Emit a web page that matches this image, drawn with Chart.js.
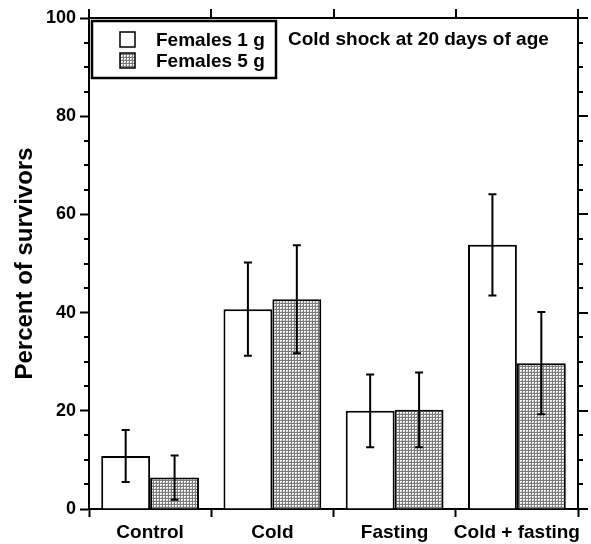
<!DOCTYPE html>
<html lang="en">
<head>
    <meta charset="UTF-8">
    <title>Cold shock at 20 days of age</title>
    <script src="https://cdn.jsdelivr.net/npm/chart.js"></script>
    <style>
        * {
            padding: 0;
            margin: 0;
            box-sizing: border-box;
        }

        body {
            background: #ffffff;
        }

        canvas {
            display: block;
        }
    </style>
</head>

<body>
    <canvas id="chart1" width="591" height="544"></canvas>

    <script>
        const categories = ['Control', 'Cold', 'Fasting', 'Cold + fasting'];
        const seriesNames = ['Females 1 g', 'Females 5 g'];
        const females1g = [10.8, 40.7, 20.0, 53.8];
        const females5g = [6.4, 42.7, 20.2, 29.7];
        const err1g = [5.3, 9.5, 7.4, 10.3];
        const err5g = [4.5, 11.0, 7.6, 10.4];
        const yTicks = [0, 20, 40, 60, 80, 100];
        const yTitle = 'Percent of survivors';
        const noteText = 'Cold shock at 20 days of age';

        const FONT = "'Liberation Sans', Arial, sans-serif";

        // dotted grey fill for the 5 g bars
        function makeDots() {
            const c = document.createElement('canvas');
            c.width = 3;
            c.height = 3;
            const g = c.getContext('2d');
            g.fillStyle = '#7a7a7a';
            g.fillRect(0, 0, 3, 3);
            g.fillStyle = '#fafafa';
            g.fillRect(1, 1, 2, 2);
            g.fillStyle = '#c4c4c4';
            g.fillRect(2, 2, 1, 1);
            return document.createElement('canvas').getContext('2d').createPattern(c, 'repeat');
        }
        const dots = makeDots();

        const errors = [err1g, err5g];

        const errorBars = {
            id: 'errorBars',
            afterDatasetsDraw(chart) {
                const ctx = chart.ctx;
                const y = chart.scales.y;
                ctx.save();
                ctx.strokeStyle = '#000';
                ctx.lineWidth = 2;
                chart.data.datasets.forEach((ds, d) => {
                    const meta = chart.getDatasetMeta(d);
                    meta.data.forEach((bar, i) => {
                        const v = ds.data[i];
                        const e = errors[d][i];
                        const top = y.getPixelForValue(v + e);
                        const bot = y.getPixelForValue(v - e);
                        ctx.beginPath();
                        ctx.moveTo(bar.x, top);
                        ctx.lineTo(bar.x, bot);
                        ctx.moveTo(bar.x - 4, top);
                        ctx.lineTo(bar.x + 4, top);
                        ctx.moveTo(bar.x - 4, bot);
                        ctx.lineTo(bar.x + 4, bot);
                        ctx.stroke();
                    });
                });
                ctx.restore();
            }
        };

        // frame, minor ticks, top/right ticks, legend box, axis title and the note
        const frame = {
            id: 'frame',
            afterDraw(chart) {
                const ctx = chart.ctx;
                const a = chart.chartArea;
                const x = chart.scales.x;
                const y = chart.scales.y;
                ctx.save();
                ctx.strokeStyle = '#000';
                ctx.lineWidth = 2;
                ctx.beginPath();
                ctx.moveTo(a.left, a.top);
                ctx.lineTo(a.right, a.top);
                ctx.moveTo(a.right, a.top);
                ctx.lineTo(a.right, a.bottom);
                ctx.stroke();

                // ticks on top at category edges
                const step = (a.right - a.left) / categories.length;
                ctx.beginPath();
                for (let i = 0; i <= categories.length; i++) {
                    const px = Math.round(x.getPixelForValue(i) - step / 2);
                    ctx.moveTo(px, a.top);
                    ctx.lineTo(px, a.top - 9);
                }
                ctx.stroke();

                // minor ticks left, all ticks right
                ctx.beginPath();
                for (let v = 0; v <= 100; v += 5) {
                    const py = Math.round(y.getPixelForValue(v));
                    const major = v % 20 === 0;
                    if (!major) {
                        ctx.moveTo(a.left, py);
                        ctx.lineTo(a.left - 5, py);
                    }
                    ctx.moveTo(a.right, py);
                    ctx.lineTo(a.right + (major ? 10 : 5), py);
                }
                ctx.stroke();

                // legend
                const lx = a.left + 3, ly = a.top + 3;
                ctx.lineWidth = 2.5;
                ctx.strokeRect(lx, ly, 184, 57);
                ctx.lineWidth = 1.5;
                ctx.fillStyle = '#fff';
                ctx.fillRect(lx + 28, ly + 11, 15, 15);
                ctx.strokeRect(lx + 28, ly + 11, 15, 15);
                ctx.fillStyle = dots;
                ctx.fillRect(lx + 28, ly + 32, 15, 15);
                ctx.strokeRect(lx + 28, ly + 32, 15, 15);
                ctx.fillStyle = '#000';
                ctx.font = 'bold 19px ' + FONT;
                ctx.textAlign = 'left';
                ctx.textBaseline = 'alphabetic';
                ctx.fillText(seriesNames[0], lx + 64, ly + 25);
                ctx.fillText(seriesNames[1], lx + 64, ly + 46);

                ctx.fillText(noteText, a.left + 199, a.top + 27);

                // y axis title
                ctx.translate(a.left - 64, (a.top + a.bottom) / 2);
                ctx.rotate(-Math.PI / 2);
                ctx.font = 'bold 24px ' + FONT;
                ctx.textAlign = 'center';
                ctx.textBaseline = 'middle';
                ctx.fillText(yTitle, 0, 0);
                ctx.restore();
            }
        };

        new Chart(document.getElementById('chart1'), {
            type: 'bar',
            data: {
                labels: categories,
                datasets: [{
                    label: seriesNames[0],
                    data: females1g,
                    backgroundColor: '#ffffff',
                    borderColor: '#000',
                    borderWidth: 2
                }, {
                    label: seriesNames[1],
                    data: females5g,
                    backgroundColor: dots,
                    borderColor: '#000',
                    borderWidth: 2
                }]
            },
            options: {
                responsive: false,
                animation: false,
                devicePixelRatio: 1,
                layout: {
                    padding: { top: 18, right: 13, left: 0, bottom: 0 }
                },
                datasets: {
                    bar: { categoryPercentage: 0.8, barPercentage: 1.0 }
                },
                plugins: {
                    legend: { display: false },
                    tooltip: { enabled: false }
                },
                scales: {
                    x: {
                        afterFit(s) { s.height = 35; },
                        grid: {
                            offset: true,
                            drawOnChartArea: false,
                            drawTicks: true,
                            tickLength: 8,
                            tickWidth: 2,
                            color: '#000'
                        },
                        border: { display: true, width: 2, color: '#000' },
                        ticks: {
                            color: '#000',
                            padding: 4,
                            autoSkip: false,
                            maxRotation: 0,
                            minRotation: 0,
                            font: { family: FONT, size: 19, weight: 'bold' }
                        }
                    },
                    y: {
                        min: 0,
                        max: 100,
                        afterFit(s) { s.width = 89; },
                        afterBuildTicks(s) { s.ticks = yTicks.map(v => ({ value: v })); },
                        grid: {
                            drawOnChartArea: false,
                            drawTicks: true,
                            tickLength: 9,
                            tickWidth: 2,
                            color: '#000'
                        },
                        border: { display: true, width: 2, color: '#000' },
                        ticks: {
                            color: '#000',
                            padding: 4,
                            font: { family: FONT, size: 18, weight: 'bold' }
                        }
                    }
                }
            },
            plugins: [errorBars, frame]
        });
    </script>
</body>
</html>
